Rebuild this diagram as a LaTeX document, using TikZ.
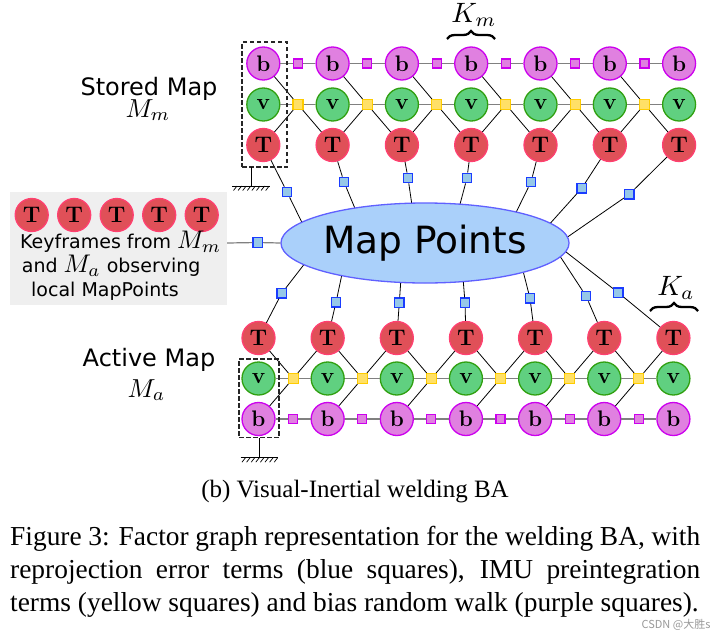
\documentclass[tikz,border=0pt]{standalone}
\usepackage{graphicx}
\usepackage{fontspec}
\usetikzlibrary{calc,shapes.geometric,decorations.pathreplacing}
\newfontfamily\dejavu{DejaVu Sans}
\newfontfamily\timesf{Liberation Serif}
\newfontfamily\cjkf{Noto Sans CJK SC}
\newcommand{\mymath}[2]{\scalebox{#1}{\fontsize{10}{12}\selectfont$#2$}}
\definecolor{bfill}{RGB}{224,128,224}
\definecolor{bdraw}{RGB}{204,0,238}
\definecolor{vfill}{RGB}{96,208,128}
\definecolor{vdraw}{RGB}{48,160,16}
\definecolor{tfill}{RGB}{224,80,88}
\definecolor{tdraw}{RGB}{255,64,112}
\definecolor{yfill}{RGB}{255,224,102}
\definecolor{ydraw}{RGB}{255,204,0}
\definecolor{qfill}{RGB}{150,200,232}
\definecolor{qdraw}{RGB}{26,60,255}
\definecolor{mpfill}{RGB}{170,208,250}
\definecolor{mpdraw}{RGB}{96,96,255}
\definecolor{boxgray}{RGB}{239,239,239}
\definecolor{linkgray}{RGB}{128,128,128}
\tikzset{
  varnode/.style={circle, minimum size=33pt, inner sep=0pt, line width=1.3pt,
    font=\fontsize{22.5}{22.5}\selectfont\bfseries},
  bnode/.style={varnode, draw=bdraw, fill=bfill},
  vnode/.style={varnode, draw=vdraw, fill=vfill},
  tnode/.style={varnode, draw=tdraw, fill=tfill},
  psq/.style={rectangle, minimum size=9pt, inner sep=0pt, line width=1.1pt, draw=bdraw, fill=bfill},
  ysq/.style={rectangle, minimum size=10pt, inner sep=0pt, line width=1.1pt, draw=ydraw, fill=yfill},
  bsq/.style={rectangle, minimum size=9.5pt, inner sep=0pt, line width=1.2pt, draw=qdraw, fill=qfill},
  glink/.style={draw=linkgray, line width=1.5pt},
  klink/.style={draw=black, line width=0.8pt},
  dbox/.style={draw=black!85, dashed, dash pattern=on 4.5pt off 2.5pt, line width=1.2pt},
  ground/.style={draw=black, line width=1pt},
  kbrace/.style={draw=black, line width=2.3pt, decorate, decoration={brace, amplitude=8pt}},
  mathlab/.style={inner sep=0pt},
  sanslab/.style={font=\dejavu\fontsize{24}{24}\selectfont, inner sep=0pt},
  kftext/.style={font=\dejavu\fontsize{19}{19}\selectfont, anchor=base west, inner sep=0pt},
}
\begin{document}
\begin{tikzpicture}[x=1pt,y=-1pt]
\useasboundingbox (0,0) rectangle (725,632);
\fill[white] (0,0) rectangle (725,632);

% ---------- Stored map (top) ----------
\foreach \i in {1,...,7}{
  \pgfmathsetmacro\xx{263.3+(\i-1)*69.3}
  \node[bnode] (bm\i) at (\xx,63.5) {b};
  \node[vnode] (vm\i) at (\xx,104.5) {v};
  \node[tnode] (Tm\i) at (\xx,145) {T};
}
\foreach \i [count=\j from 2] in {1,...,6}{
  \node[psq] (pm\i) at ($(bm\i)!0.5!(bm\j)$) {};
  \node[ysq] (ym\i) at ($(vm\i)!0.5!(vm\j)$) {};
  \draw[glink] (bm\i) -- (pm\i) -- (bm\j);
  \draw[glink] (vm\i) -- (ym\i) -- (vm\j);
  \draw[klink] (ym\i) -- (bm\i);
  \draw[klink] (ym\i) -- (Tm\i);
  \draw[klink] (ym\i) -- (Tm\j);
}

% ---------- Active map (bottom) ----------
\foreach \i in {1,...,7}{
  \pgfmathsetmacro\xx{258.5+(\i-1)*69.15}
  \node[tnode] (Ta\i) at (\xx,338) {T};
  \node[vnode] (va\i) at (\xx,378.5) {v};
  \node[bnode] (ba\i) at (\xx,419) {b};
}
\foreach \i [count=\j from 2] in {1,...,6}{
  \node[psq] (pa\i) at ($(ba\i)!0.5!(ba\j)$) {};
  \node[ysq] (ya\i) at ($(va\i)!0.5!(va\j)$) {};
  \draw[glink] (ba\i) -- (pa\i) -- (ba\j);
  \draw[glink] (va\i) -- (ya\i) -- (va\j);
  \draw[klink] (ya\i) -- (ba\i);
  \draw[klink] (ya\i) -- (Ta\i);
  \draw[klink] (ya\i) -- (Ta\j);
}

% ---------- reprojection factors ----------
\foreach \i/\qx/\qy/\ex/\ey in {1/287/192/302/222.6, 2/344/182/355/208.5, 3/408/178/411.7/203.3,
    4/467/178/460/204.2, 5/531/182/516/212.5, 6/581.7/188.3/550/223.6, 7/629.3/194.3/567.5/237}{
  \node[bsq] (qm\i) at (\qx,\qy) {};
  \coordinate (em\i) at (\ex,\ey);
  \draw[klink] (Tm\i) -- (qm\i) -- (em\i);
}
\foreach \i/\qx/\qy/\ex/\ey in {1/281.7/293.3/304/264.5, 2/336/302.3/341.7/275.5, 3/399.3/302.7/400.7/282.4,
    4/465/302.7/463.3/281.5, 5/530/298.3/523.3/272, 6/586/296/560/256.2, 7/618.3/292.7/565/251.2}{
  \node[bsq] (qa\i) at (\qx,\qy) {};
  \coordinate (fa\i) at (\ex,\ey);
  \draw[klink] (Ta\i) -- (qa\i) -- (fa\i);
}

% ---------- Map points ----------
\node[ellipse, draw=mpdraw, fill=mpfill, line width=1.3pt, minimum width=286pt, minimum height=80pt,
      inner sep=0pt, font=\dejavu\fontsize{37.5}{37.5}\selectfont] (mp) at (425,243) {Map Points};

% ---------- Keyframe box ----------
\node[rectangle, fill=boxgray, minimum width=216.7pt, minimum height=113.3pt, inner sep=0pt,
      anchor=north west] (kf) at (10,191.7) {};
\foreach \i in {1,...,5}{
  \node[tnode] (kt\i) at (31.7+42.5*\i-42.5,215) {T};
}
\node[kftext] (kl1) at (20,248.3) {Keyframes from \mymath{2.55}{M_m}};
\node[kftext] (kl2) at (21.7,272.7) {and \mymath{2.55}{M_a} observing};
\node[kftext] (kl3) at (31,296.7) {local MapPoints};
\node[bsq] (ql) at (257.7,242.5) {};
\draw[linkgray, line width=1.2pt] (mp.west -| kf.east) -- (ql) -- (mp.west);

% ---------- Dashed boxes and grounds ----------
\node[dbox, minimum width=45pt, minimum height=125pt, inner sep=0pt] (gm) at (264.5,104.5) {};
\coordinate (gmt) at (251.7,167);
\coordinate (gmb) at (251.7,186);
\draw[ground] (gmt) -- (gmb);
\draw[ground] (232,186) -- (270,186);
\foreach \k in {0,...,7} \draw[line width=0.7pt] (237+\k*4.6,186) -- ++(-3.5,4.5);

\node[dbox, minimum width=40pt, minimum height=78.7pt, inner sep=0pt] (ga) at (259,398.3) {};
\coordinate (gat) at (259.8,437.7);
\coordinate (gab) at (259.8,457.7);
\draw[ground] (gat) -- (gab);
\draw[ground] (240.7,457.7) -- (278.3,457.7);
\foreach \k in {0,...,7} \draw[line width=0.7pt] (245.5+\k*4.6,457.7) -- ++(-3.5,4.5);

% ---------- Braces ----------
\coordinate (kmA) at (447,39);
\coordinate (kmB) at (495,39);
\draw[kbrace] (kmA) -- (kmB);
\node[mathlab, anchor=base] (kml) at (474,22) {\mymath{2.8}{K_m}};
\coordinate (kaA) at (650,311);
\coordinate (kaB) at (698,311);
\draw[kbrace] (kaA) -- (kaB);
\node[mathlab, anchor=base] (kal) at (676,295) {\mymath{2.8}{K_a}};

% ---------- Map labels ----------
\node[sanslab, anchor=base] (sm) at (149,95) {Stored Map};
\node[mathlab, anchor=base] (smm) at (148,117) {\mymath{2.6}{M_m}};
\node[sanslab, anchor=base] (am) at (149,366.7) {Active Map};
\node[mathlab, anchor=base] (amm) at (146.5,397) {\mymath{2.6}{M_a}};

% ---------- Captions ----------
\node[anchor=base, inner sep=0pt, font=\timesf\fontsize{25}{25}\selectfont] (sub) at (355,497)
  {(b) Visual-Inertial welding BA};
\node[anchor=base west, inner sep=0pt, font=\timesf\fontsize{27.4}{27.4}\selectfont] (c1) at (10,545)
  {\makebox[690pt][s]{Figure 3: Factor graph representation for the welding BA, with}};
\node[anchor=base west, inner sep=0pt, font=\timesf\fontsize{27.4}{27.4}\selectfont] (c2) at (10,578)
  {\makebox[690pt][s]{reprojection error terms (blue squares), IMU preintegration}};
\node[anchor=base west, inner sep=0pt, font=\timesf\fontsize{27.4}{27.4}\selectfont] (c3) at (10,611)
  {terms (yellow squares) and bias random walk (purple squares).};
\node[anchor=base, inner sep=0pt, text=black!40, font=\cjkf\fontsize{11}{11}\selectfont] (wm) at (676,628)
  {CSDN @大胜s};
\end{tikzpicture}
\end{document}
